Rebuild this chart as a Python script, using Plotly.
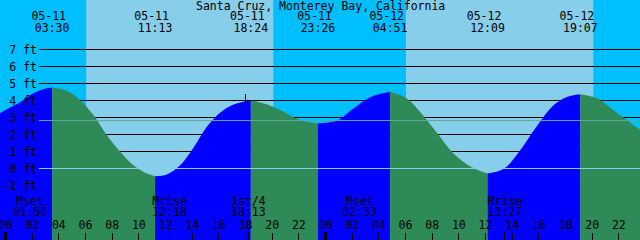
import plotly.graph_objects as go

TITLE = "Santa Cruz, Monterey Bay, California"

# ---- tide extremes ----
extreme_times = ["05-11 03:30", "05-11 11:13", "05-11 18:24", "05-11 23:26",
                 "05-12 04:51", "05-12 12:09", "05-12 19:07", "05-13 00:27"]
extreme_levels = [4.76, -0.45, 4.02, 2.65, 4.51, -0.30, 4.37, 2.00]

# ---- intermediate water-level readings (hours after 05-11 00:00, feet) ----
reading_hours = [-0.5, 0.3, 1.1, 2.1, 2.9, 4.6, 5.6, 6.6, 7.6, 8.6, 9.6, 10.6,
                 12.1, 13.1, 14.1, 15.1, 16.1, 17.1, 19.6, 20.9, 22.1,
                 24.9, 26.1, 27.4, 30.1, 31.1, 32.4, 33.6, 34.9,
                 37.4, 38.6, 39.9, 41.1, 42.1, 44.4, 45.6, 46.6, 47.6]
reading_levels = [3.21, 3.57, 3.90, 4.42, 4.68, 4.57, 4.02, 3.14, 1.96, 0.98, 0.19, -0.30,
                  -0.35, 0.19, 1.22, 2.45, 3.28, 3.76, 3.78, 3.33, 2.84,
                  2.84, 3.53, 4.21, 4.12, 3.33, 2.06, 0.88, 0.10,
                  0.00, 1.08, 2.55, 3.72, 4.21, 4.12, 3.43, 2.84, 2.29]

# ---- sun and moon ----
sunrise_times = ["05-11 06:03", "05-12 06:02"]
sunset_times = ["05-11 20:05", "05-12 20:05"]
moon_times = ["05-11 01:50", "05-11 12:18", "05-11 18:13", "05-12 02:33", "05-12 13:27"]
moon_events = ["Mset", "Mrise", "1st/4", "Mset", "Mrise"]

# ---- marker ----
mark_times = ["05-11 18:00"]
mark_levels = [4.0]

# ---- axes ----
level_ticks = [-1, 0, 1, 2, 3, 4, 5, 6, 7]
level_labels = ["-1 ft", "0 ft", "1 ft", "2 ft", "3 ft", "4 ft", "5 ft", "6 ft", "7 ft"]
grid_levels = [1, 2, 3, 4, 5, 6, 7]
datum_level = 0.0
msl_level = 2.82
hour_ticks = list(range(0, 49, 2))
hour_labels = ["00", "02", "04", "06", "08", "10", "12", "14", "16", "18", "20", "22",
               "00", "02", "04", "06", "08", "10", "12", "14", "16", "18", "20", "22", "00"]
day_ticks = [0, 24, 48]

# colours
NIGHT = "#00BFFF"
DAY = "#87CEEB"
RISE = "#0000FF"
FALL = "#2E8B57"
DATUM = "#87CEEB"
MSL = "#60A89A"
FONT = "DejaVu Sans Mono"
FS = 11.5

W, H = 640, 240
X0, X1 = -0.4125, 47.5875
Y_TOP = 168.5 / 17.0
Y_BOT = -(240 - 168.5) / 17.0


def hours(s):
    d, t = s.split(" ")
    day = int(d.split("-")[1])
    hh, mm = t.split(":")
    return (day - 11) * 24 + int(hh) + int(mm) / 60.0


def py(px):  # pixel row -> feet (for label placement)
    return Y_TOP - px * (Y_TOP - Y_BOT) / H


ext_h = [hours(t) for t in extreme_times]
pts = sorted(list(zip(reading_hours, reading_levels)) + list(zip(ext_h, extreme_levels)))

fig = go.Figure()

bounds = [-1e9] + ext_h + [1e9]
for a, b in zip(bounds[:-1], bounds[1:]):
    seg = [p for p in pts if a <= p[0] <= b]
    if len(seg) < 2:
        continue
    xs = [p[0] for p in seg]
    ys = [p[1] for p in seg]
    col = RISE if ys[-1] > ys[0] else FALL
    fig.add_trace(go.Scatter(x=[xs[0], xs[-1]], y=[Y_BOT - 1, Y_BOT - 1], mode="lines",
                             line=dict(width=0), hoverinfo="skip"))
    fig.add_trace(go.Scatter(x=xs, y=ys, mode="lines", fill="tonexty", fillcolor=col,
                             line=dict(width=0, shape="spline", smoothing=1.0),
                             hoverinfo="skip"))

# marker
fig.add_trace(go.Scatter(x=[hours(t) for t in mark_times], y=mark_levels, mode="markers",
                         marker=dict(symbol="cross-thin", size=9, line=dict(width=1, color="black")),
                         hoverinfo="skip"))

txt = dict(family=FONT, size=FS, color="black")
# top labels
fig.add_trace(go.Scatter(x=ext_h, y=[py(17.5)] * len(ext_h), mode="text",
                         text=[t.split(" ")[0] + "\u00a0" for t in extreme_times],
                         textposition="middle center", textfont=txt, cliponaxis=False,
                         hoverinfo="skip"))
fig.add_trace(go.Scatter(x=ext_h, y=[py(29)] * len(ext_h), mode="text",
                         text=[t.split(" ")[1] for t in extreme_times],
                         textposition="middle center", textfont=txt, cliponaxis=False,
                         hoverinfo="skip"))
# moon labels
moon_h = [hours(t) for t in moon_times]
fig.add_trace(go.Scatter(x=moon_h, y=[py(201.7)] * len(moon_h), mode="text",
                         text=moon_events, textposition="middle center", textfont=txt,
                         cliponaxis=False, hoverinfo="skip"))
fig.add_trace(go.Scatter(x=moon_h, y=[py(213)] * len(moon_h), mode="text",
                         text=[t.split(" ")[1] for t in moon_times], textposition="middle center",
                         textfont=txt, cliponaxis=False, hoverinfo="skip"))
# hour labels
fig.add_trace(go.Scatter(x=hour_ticks, y=[py(226)] * len(hour_ticks), mode="text",
                         text=hour_labels, textposition="middle center", textfont=txt,
                         cliponaxis=False, hoverinfo="skip"))

# dummy traces for tick axes
fig.add_trace(go.Scatter(x=[None], y=[None], xaxis="x2", showlegend=False))
fig.add_trace(go.Scatter(x=[None], y=[None], xaxis="x3", showlegend=False))

shapes = []
for sr, ss in zip(sunrise_times, sunset_times):
    shapes.append(dict(type="rect", xref="x", yref="paper", x0=hours(sr), x1=hours(ss),
                       y0=0, y1=1, fillcolor=DAY, line=dict(width=0), layer="below"))
for lv in grid_levels:
    shapes.append(dict(type="line", xref="paper", yref="y", x0=39 / W, x1=1, y0=lv, y1=lv,
                       line=dict(color="black", width=1), layer="below"))
shapes.append(dict(type="line", xref="paper", yref="y", x0=39 / W, x1=1, y0=datum_level,
                   y1=datum_level, line=dict(color=DATUM, width=1), layer="above"))
shapes.append(dict(type="line", xref="paper", yref="y", x0=39 / W, x1=1, y0=msl_level,
                   y1=msl_level, line=dict(color=MSL, width=1), layer="above"))

common_x = dict(range=[X0, X1], showgrid=False, zeroline=False, showline=False,
                showticklabels=False, ticks="inside", tickcolor="black", fixedrange=True)

fig.update_layout(
    width=W, height=H, margin=dict(l=0, r=0, t=0, b=0),
    paper_bgcolor=NIGHT, plot_bgcolor=NIGHT, showlegend=False,
    shapes=shapes,
    xaxis=dict(domain=[0, 1], tickvals=hour_ticks, ticklen=7, tickwidth=1, **common_x),
    xaxis2=dict(overlaying="x", anchor="y", side="bottom", tickvals=moon_h, ticklen=8,
                tickwidth=1, **common_x),
    xaxis3=dict(overlaying="x", anchor="y", side="bottom", tickvals=day_ticks, ticklen=8,
                tickwidth=3, **common_x),
    yaxis=dict(range=[Y_BOT, Y_TOP], anchor="free", position=37 / W, side="left",
               tickvals=level_ticks, ticktext=level_labels, ticks="", showgrid=False,
               zeroline=False, showline=False, tickfont=txt, fixedrange=True),
    annotations=[dict(text=TITLE, xref="paper", yref="paper", x=0.5, y=1 - 5.8 / H,
                      xanchor="center", yanchor="middle", showarrow=False, font=txt)],
)

fig.write_html("out.html")
